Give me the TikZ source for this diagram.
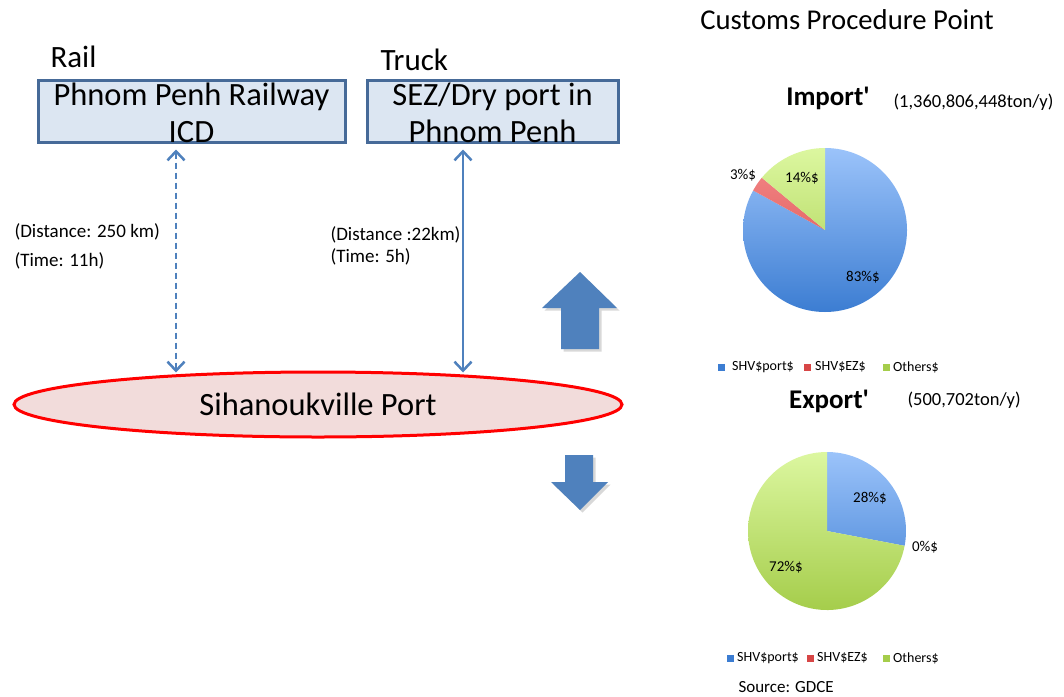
\documentclass[tikz,border=0pt]{standalone}
\usepackage{fontspec}
\setmainfont{Carlito}[Ligatures=TeXOff]
\usetikzlibrary{shapes.geometric,arrows.meta,shadows}

\definecolor{boxfill}{RGB}{220,230,242}
\definecolor{boxline}{RGB}{70,106,152}
\definecolor{linkblue}{RGB}{79,129,189}
\definecolor{portfill}{RGB}{242,220,219}
\definecolor{sliceblueA}{RGB}{155,195,250}
\definecolor{sliceblueB}{RGB}{60,125,210}
\definecolor{sliceredA}{RGB}{245,140,140}
\definecolor{sliceredB}{RGB}{215,70,70}
\definecolor{slicegreenA}{RGB}{220,247,160}
\definecolor{slicegreenB}{RGB}{165,205,75}

\tikzset{
  hubbox/.style={draw=boxline, line width=3pt, fill=boxfill, minimum width=#1,
    minimum height=62pt, inner sep=0pt},
  hubtext/.style={align=center, font=\fontsize{32.5}{37}\selectfont},
  modelabel/.style={anchor=base west, font=\fontsize{31}{36}\selectfont},
  distlabel/.style={anchor=base west, align=left, font=\fontsize{19}{#1}\selectfont},
  distlink/.style={linkblue, line width=1.5pt,
    {Straight Barb[length=9pt,width=17pt,line width=2.5pt]}-{Straight Barb[length=9pt,width=17pt,line width=2.5pt]}},
  portnode/.style={ellipse, draw=red, line width=3pt, fill=portfill, minimum width=608pt,
    minimum height=65pt, font=\fontsize{32.5}{38}\selectfont},
  blockarrow/.style={fill=linkblue, drop shadow={opacity=0.3, shadow xshift=2.5pt, shadow yshift=-2.5pt}},
  pietitle/.style={anchor=base, font=\fontsize{27}{32}\bfseries\selectfont},
  pieamount/.style={anchor=base west, font=\fontsize{18.5}{22}\selectfont},
  pielabel/.style={font=\fontsize{15}{18}\selectfont},
  legsq/.style={minimum size=7pt, inner sep=0pt, fill=#1},
  legtxt/.style={anchor=west, inner sep=0pt, font=\fontsize{14}{17}\selectfont}
}

\begin{document}
\begin{tikzpicture}[x=1pt, y=-1pt]
  \useasboundingbox (0,0) rectangle (1064,696);
  \fill[white] (0,0) rectangle (1064,696);

  % left part: routes to the port
  \node[modelabel] (rail) at (47,67) {Rail};
  \node[modelabel] (truck) at (377,70) {Truck};
  \node[hubbox=307pt] (icd) at (191.5,111) {};
  \node[hubtext] (icdtext) at ([yshift=-2pt]icd.center) {Phnom Penh Railway\\ICD};
  \node[hubbox=251pt] (sez) at (492.5,111) {};
  \node[hubtext] (seztext) at ([yshift=-2pt]sez.center) {SEZ/Dry port in\\Phnom Penh};
  \node[portnode] (port) at (318,404.5) {Sihanoukville Port};

  \coordinate (railx) at (176,0);
  \coordinate (truckx) at (463,0);
  \draw[distlink, dash pattern=on 6pt off 4pt, shorten <=6pt, shorten >=-2pt] (icd.south -| railx) -- (railx |- port.north);
  \draw[distlink, shorten <=6pt, shorten >=-2pt] (sez.south -| truckx) -- (truckx |- port.north);

  \node[distlabel=29pt] (raildist) at (11,266) {(Distance: 250 km)\\(Time: 11h)};
  \node[distlabel=22pt] (truckdist) at (327,262) {(Distance :22km)\\(Time: 5h)};

  % import / export arrows
  \fill[blockarrow] (580,272) -- (617,308) -- (599,308) -- (599,349) -- (561,349) -- (561,308) -- (542,308) -- cycle;
  \fill[blockarrow] (565,455) -- (593,455) -- (593,482) -- (608,482) -- (580,510) -- (551,482) -- (565,482) -- cycle;

  % right part: customs
  \node[anchor=base, font=\fontsize{28.7}{33}\selectfont] (customs) at (847,29) {Customs Procedure Point};

  \node[pietitle] (imptitle) at (828,105) {Import'};
  \node[pieamount] (impamount) at (890,107) {(1,360,806,448ton/y)};
  \begin{scope}[shift={(825,230)}, yscale=-1]
    \foreach \from/\to/\ca/\cb in {90/-208.8/sliceblueA/sliceblueB, -208.8/-219.6/sliceredA/sliceredB, -219.6/-270/slicegreenA/slicegreenB}
    {
      \begin{scope}
        \clip (0,0) -- (\from:82) arc[start angle=\from, end angle=\to, radius=82] -- cycle;
        \shade[top color=\ca, bottom color=\cb] (-82,-82) rectangle (82,82);
      \end{scope}
    }
  \end{scope}
  \node[pielabel] (imp14) at (802,178) {14\%\$};
  \node[pielabel] (imp3) at (743,175) {3\%\$};
  \node[pielabel] (imp83) at (863,277) {83\%\$};
  \node[legsq=sliceblueB] (impsq1) at (721.5,367) {};
  \node[legtxt] (impleg1) at (732,367) {SHV\$port\$};
  \node[legsq=sliceredB] (impsq2) at (807.5,367) {};
  \node[legtxt] (impleg2) at (815,367) {SHV\$EZ\$};
  \node[legsq=slicegreenB] (impsq3) at (886,367) {};
  \node[legtxt] (impleg3) at (893,367) {Others\$};

  \node[pietitle] (exptitle) at (829,408) {Export'};
  \node[pieamount] (expamount) at (904,405) {(500,702ton/y)};
  \begin{scope}[shift={(827,531)}, yscale=-1]
    \foreach \from/\to/\ca/\cb in {90/-10.8/sliceblueA/sliceblueB, -10.8/-270/slicegreenA/slicegreenB}
    {
      \begin{scope}
        \clip (0,0) -- (\from:79) arc[start angle=\from, end angle=\to, radius=79] -- cycle;
        \shade[top color=\ca, bottom color=\cb] (-79,-79) rectangle (79,79);
      \end{scope}
    }
  \end{scope}
  \node[pielabel] (exp28) at (870,498) {28\%\$};
  \node[pielabel] (exp0) at (925,547) {0\%\$};
  \node[pielabel] (exp72) at (786,567) {72\%\$};
  \node[legsq=sliceblueB] (expsq1) at (730.5,658) {};
  \node[legtxt] (expleg1) at (737,658) {SHV\$port\$};
  \node[legsq=sliceredB] (expsq2) at (810.5,658) {};
  \node[legtxt] (expleg2) at (817,658) {SHV\$EZ\$};
  \node[legsq=slicegreenB] (expsq3) at (886.5,658) {};
  \node[legtxt] (expleg3) at (893,658) {Others\$};

  \node[anchor=west, font=\fontsize{17}{20}\selectfont] (source) at (735,687) {Source: GDCE};
\end{tikzpicture}
\end{document}
